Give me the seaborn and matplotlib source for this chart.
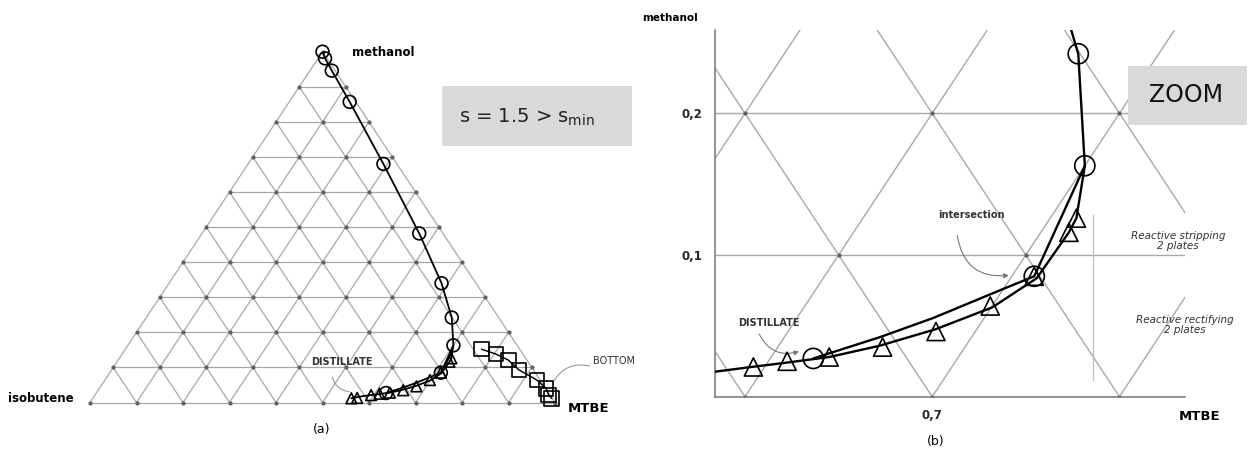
import numpy as np
import matplotlib
matplotlib.use("Agg")
import matplotlib.pyplot as plt
import seaborn as sns
from matplotlib.patches import Rectangle

# ---------------- data: ternary mole fractions (methanol, MTBE); isobutene = rest ----------------
circ_methanol = [1.000, 0.981, 0.946, 0.857, 0.680, 0.482, 0.340, 0.242, 0.163, 0.085, 0.027]
circ_mtbe     = [0.000, 0.015, 0.047, 0.130, 0.291, 0.467, 0.586, 0.657, 0.700, 0.712, 0.623]

# rectifying profile line (through the circles, then down to the distillate)
rect_line_methanol = [1.000, 0.981, 0.946, 0.857, 0.680, 0.482, 0.340, 0.242, 0.163, 0.085, 0.075, 0.0555, 0.042, 0.027]
rect_line_mtbe     = [0.000, 0.015, 0.047, 0.130, 0.291, 0.467, 0.586, 0.657, 0.700, 0.712, 0.6985, 0.6727, 0.651, 0.623]

tri_methanol = [0.012, 0.013, 0.021, 0.025, 0.028, 0.035, 0.046, 0.064, 0.085, 0.116, 0.126]
tri_mtbe     = [0.556, 0.568, 0.594, 0.610, 0.631, 0.656, 0.679, 0.699, 0.712, 0.715, 0.714]

# stripping profile line (through the triangles)
strip_line_methanol = [0.163, 0.126, 0.116, 0.0836, 0.063, 0.0476, 0.036, 0.028, 0.024, 0.021, 0.0176, 0.012]
strip_line_mtbe     = [0.700, 0.714, 0.715, 0.714, 0.7005, 0.678, 0.654, 0.631, 0.610, 0.593, 0.575, 0.556]

sq_methanol = [0.152, 0.138, 0.121, 0.093, 0.064, 0.040, 0.021, 0.012]
sq_mtbe     = [0.766, 0.804, 0.839, 0.876, 0.929, 0.961, 0.976, 0.987]

grid_levels = [i / 10 for i in range(11)]


def to_xy(meth, mtbe):
    meth = np.asarray(meth, float)
    mtbe = np.asarray(mtbe, float)
    return mtbe + meth / 2.0, meth


sns.set_theme(style="white")
plt.rcParams['font.family'] = ['DejaVu Sans']

W, H = 1250, 459
fig = plt.figure(figsize=(W / 100, H / 100), dpi=100)


def fx(px):
    return px / W


def fy(py):
    return 1 - py / H


GRID = '#a8a8a8'


def draw_grid(ax, lw, clip):
    for k in grid_levels:
        # constant methanol
        x, y = to_xy([k, k], [0, 1 - k])
        ax.plot(x, y, color=GRID, lw=lw, zorder=1, clip_on=clip)
        # constant MTBE
        x, y = to_xy([0, 1 - k], [k, k])
        ax.plot(x, y, color=GRID, lw=lw, zorder=1, clip_on=clip)
        # constant isobutene
        x, y = to_xy([0, 1 - k], [1 - k, 0])
        ax.plot(x, y, color=GRID, lw=lw, zorder=1, clip_on=clip)
    nm, nt = [], []
    for i in range(11):
        for j in range(11 - i):
            nm.append(i / 10)
            nt.append(j / 10)
    x, y = to_xy(nm, nt)
    ax.plot(x, y, ls='none', marker='o', ms=2.0, color='#606060', zorder=1.5, clip_on=clip)


def draw_data(ax, lw, s_circ, s_tri, s_sq, clip):
    x, y = to_xy(rect_line_methanol, rect_line_mtbe)
    sns.lineplot(x=x, y=y, sort=False, estimator=None, color='black', lw=lw, ax=ax, zorder=3)
    x, y = to_xy(strip_line_methanol, strip_line_mtbe)
    sns.lineplot(x=x, y=y, sort=False, estimator=None, color='black', lw=lw, ax=ax, zorder=3)
    x, y = to_xy(sq_methanol, sq_mtbe)
    sns.lineplot(x=x, y=y, sort=False, estimator=None, color='black', lw=lw * 0.8, ax=ax, zorder=3)
    x, y = to_xy(circ_methanol, circ_mtbe)
    sns.scatterplot(x=x, y=y, marker='o', s=s_circ, facecolor='none', edgecolor='black',
                    linewidth=1.2, ax=ax, zorder=4, clip_on=clip)
    x, y = to_xy(tri_methanol, tri_mtbe)
    sns.scatterplot(x=x, y=y, marker='^', s=s_tri, facecolor='none', edgecolor='black',
                    linewidth=1.2, ax=ax, zorder=4, clip_on=clip)
    x, y = to_xy(sq_methanol, sq_mtbe)
    sns.scatterplot(x=x, y=y, marker='s', s=s_sq, facecolor='none', edgecolor='black',
                    linewidth=1.2, ax=ax, zorder=4, clip_on=clip)


# ---------------- panel (a): full ternary diagram ----------------
axL = fig.add_axes([fx(90), fy(402.5), 465 / W, 350.8 / H])
draw_grid(axL, 0.9, False)
draw_data(axL, 1.3, 85, 60, 110, False)
axL.set_xlim(0, 1)
axL.set_ylim(0, 1)
axL.axis('off')

lab = dict(fontweight='bold', color='black')
axL.text(0.563, 0.997, 'methanol', fontsize=8.5, ha='left', va='center', **lab)
axL.text(-0.035, 0.01, 'isobutene', fontsize=8.5, ha='right', va='center', **lab)
axL.text(1.028, -0.016, 'MTBE', fontsize=9.5, ha='left', va='center', **lab)
axL.text(0.499, -0.078, '(a)', fontsize=9, ha='center', va='center', color='black')
axL.text(0.541, 0.116, 'DISTILLATE', fontsize=7, ha='center', va='center',
         fontweight='bold', color='#333333')
axL.annotate('', xy=(0.563, 0.030), xytext=(0.52, 0.080),
             arrowprops=dict(arrowstyle='-', color='#999999', lw=0.8,
                             connectionstyle='arc3,rad=0.4'))
axL.text(1.082, 0.118, 'BOTTOM', fontsize=7, ha='left', va='center', color='#333333')
axL.annotate('', xy=(0.994, 0.053), xytext=(1.080, 0.102),
             arrowprops=dict(arrowstyle='-', color='#999999', lw=0.8,
                             connectionstyle='arc3,rad=0.4'))

fig.patches.append(Rectangle((fx(442), fy(146)), 190 / W, 60 / H, transform=fig.transFigure,
                             facecolor='#d9d9d9', edgecolor='none', zorder=0))
fig.text(fx(527), fy(117), r's = 1.5 > s$_\mathregular{min}$', fontsize=14,
         ha='center', va='center', color='#222222')

# ---------------- panel (b): zoom ----------------
axR = fig.add_axes([fx(715), fy(396.7), 470 / W, 366.7 / H])
draw_grid(axR, 1.0, True)
draw_data(axR, 1.7, 210, 170, 200, True)
axR.set_xlim(0.584, 0.835)
axR.set_ylim(0, 0.2588)
for side in ['top', 'right']:
    axR.spines[side].set_visible(False)
for side in ['left', 'bottom']:
    axR.spines[side].set_color('#808080')
    axR.spines[side].set_linewidth(1.2)
axR.set_yticks([0.1, 0.2])
axR.set_yticklabels(['0,1', '0,2'], fontsize=8.5, fontweight='bold')
axR.set_xticks([0.7])
axR.set_xticklabels(['0,7'], fontsize=8.5, fontweight='bold')
axR.set_yticks([0.058, 0.116, 0.172, 0.231], minor=True)
axR.set_xticks([0.65, 0.75], minor=True)
axR.tick_params(axis='both', which='major', length=0, pad=9)
axR.tick_params(axis='both', which='minor', length=3, direction='in', color='#808080')
axR.set_xlabel('')
axR.set_ylabel('')
axR.grid(False)

fig.text(fx(670), fy(18), 'methanol', fontsize=7.5, ha='center', va='center', **lab)
fig.text(fx(1200), fy(416), 'MTBE', fontsize=9.5, ha='center', va='center', **lab)
fig.text(fx(936), fy(442), '(b)', fontsize=9, ha='center', va='center', color='black')

axR.text(0.6128, 0.0522, 'DISTILLATE', fontsize=7, ha='center', va='center',
         fontweight='bold', color='#333333')
axR.annotate('', xy=(0.6303, 0.0325), xytext=(0.607, 0.0459),
             arrowprops=dict(arrowstyle='-|>', color='#777777', lw=0.8, mutation_scale=7,
                             connectionstyle='arc3,rad=0.45'))
axR.text(0.7207, 0.128, 'intersection', fontsize=7, ha='center', va='center',
         fontweight='bold', color='#333333')
axR.annotate('', xy=(0.7424, 0.0859), xytext=(0.7132, 0.1155),
             arrowprops=dict(arrowstyle='-|>', color='#777777', lw=0.8, mutation_scale=7,
                             connectionstyle='arc3,rad=0.5'))

# brace between the two sections
axR.plot([0.7858, 0.7858], [0.012, 0.128], color='#c0c0c0', lw=0.9, zorder=2)

fig.patches.append(Rectangle((fx(1128), fy(125)), 119 / W, 59 / H, transform=fig.transFigure,
                             facecolor='#d9d9d9', edgecolor='none', zorder=5))
fig.text(fx(1186), fy(95), 'ZOOM', fontsize=17, ha='center', va='center', color='#111111', zorder=6)

it = dict(fontsize=7.5, style='italic', ha='center', va='center', color='#333333', linespacing=1.0)
fig.text(fx(1178), fy(241), 'Reactive stripping\n2 plates', **it)
fig.text(fx(1185), fy(325), 'Reactive rectifying\n2 plates', **it)

fig.savefig('out.png', dpi=100)
